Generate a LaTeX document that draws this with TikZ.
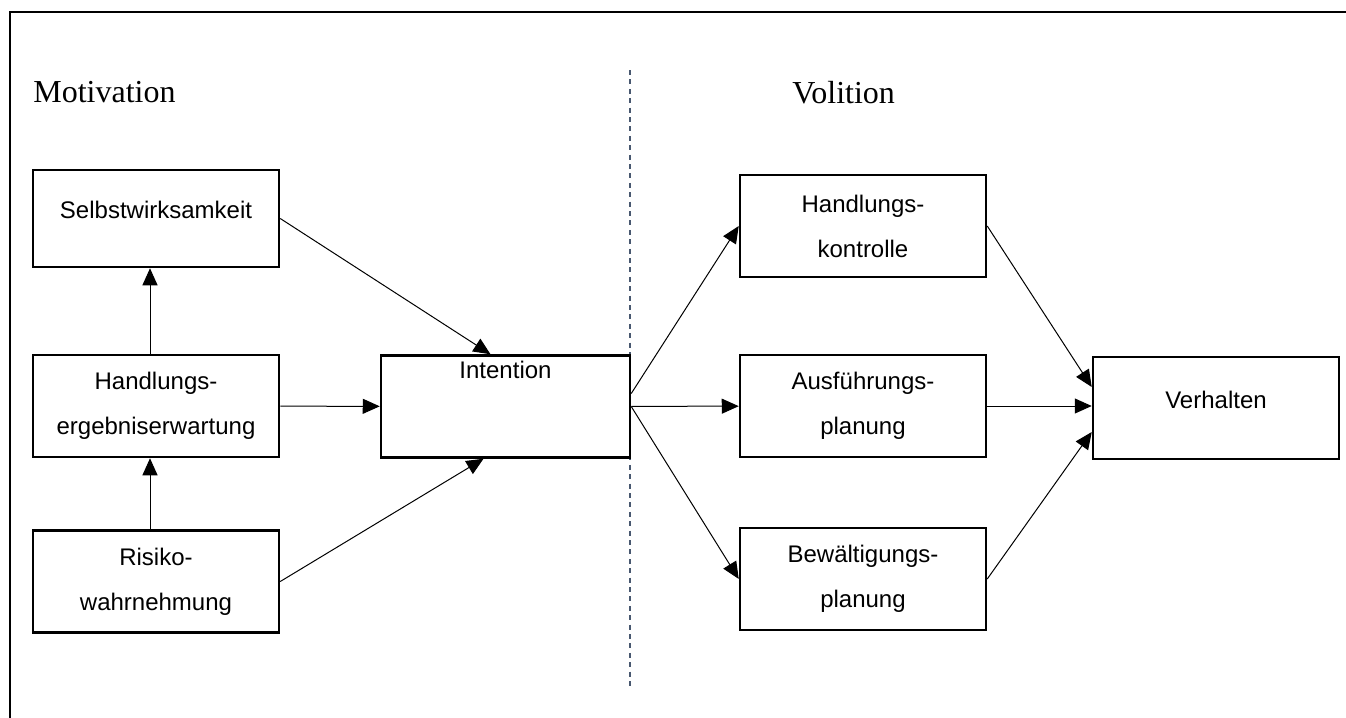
\documentclass[tikz,border=0pt]{standalone}
\usepackage{fontspec}
\setmainfont{Liberation Serif}
\setsansfont{Liberation Sans}
\usetikzlibrary{arrows.meta,positioning}
\definecolor{ink}{RGB}{0,0,0}
\definecolor{divider}{RGB}{72,88,112}

\begin{document}
\begin{tikzpicture}[
  x=0.5pt, y=-0.5pt,
  font=\sffamily\fontsize{12}{22.5}\selectfont, >={Triangle[length=8.5pt,width=7.5pt]},
  box/.style={draw=ink, line width=1.25pt, align=center, minimum width=123pt, minimum height=51pt, inner sep=0pt},
  oneline/.style={text height=0pt, text depth=0pt},
  flow/.style={->, line width=0.5pt, draw=ink},
  phase/.style={font=\rmfamily\fontsize{16}{19}\selectfont, anchor=base west, inner sep=0pt},
]
\useasboundingbox (0,0) rectangle (1346,718);
% ---------------------------------------------------------------- frame
\coordinate (frameR) at (1346,12);
\coordinate (frameC) at (10,12);
\coordinate (frameB) at (10,718);
\draw[ink, line width=1pt] (frameR) -- (frameC) -- (frameB);

% ---------------------------------------------------------------- phases
\node[phase] (motiv) at (33,102) {Motivation};
\node[phase] (volit) at (792,103) {Volition};
\coordinate (divtop) at (630,70);
\coordinate (divbot) at (630,690);
\draw[divider, line width=0.6pt, dash pattern=on 2.5pt off 2.2pt] (divtop) -- (divbot);

% ---------------------------------------------------------------- nodes
\node[box, oneline, minimum height=48.5pt] (self) at (156,218.5) {Selbstwirksamkeit};
\node[box] (outc) at (156,406) {Handlungs-\\ergebniserwartung};
\node[box] (risk) at (156,581.5) {Risiko-\\wahrnehmung};
\node[box, text height=0pt, text depth=28pt, minimum width=124.5pt] (intent) at (505.5,406.5) {Intention};

\node[box] (ctrl) at (863,226) {Handlungs-\\kontrolle};
\node[box] (plan) at (863,406) {Ausführungs-\\planung};
\node[box] (cope) at (863,579) {Bewältigungs-\\planung};
\node[box, oneline] (beh) at (1216,408) {Verhalten};

% ---------------------------------------------------------------- edges
\draw[flow] ([xshift=-3pt]outc.north) -- ([xshift=-3pt]self.south);
\draw[flow] ([xshift=-3pt]risk.north) -- ([xshift=-3pt]outc.south);
\draw[flow] (self.east) -- ([xshift=-7.5pt]intent.north);
\draw[flow] (outc) -- (intent);
\draw[flow] (risk.east) -- ([xshift=-11pt]intent.south);

\draw[flow] ([yshift=6.5pt]intent.east) -- (ctrl.west);
\draw[flow] (intent) -- (plan);
\draw[flow] (intent.east) -- (cope.west);

\draw[flow] (ctrl.east) -- ([yshift=10.5pt]beh.west);
\draw[flow] (plan.east) -- (plan.east -| beh.west);
\draw[flow] (cope.east) -- ([yshift=-12pt]beh.west);
\end{tikzpicture}
\end{document}
